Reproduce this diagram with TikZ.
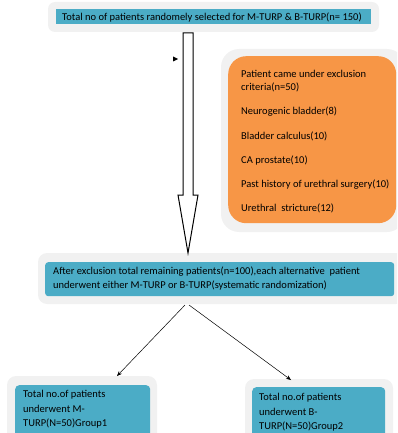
\documentclass[tikz,border=0pt]{standalone}
\usepackage{fontspec}
\setmainfont{Carlito}
\usetikzlibrary{arrows.meta}
\definecolor{teal1}{HTML}{4BACC6}
\definecolor{orange1}{HTML}{F79646}
\definecolor{halo}{HTML}{F1F1F1}
\begin{document}
\begin{tikzpicture}[x=1pt,y=-1pt,
  halobox/.style={fill=halo,draw=none,rounded corners=#1},
  tealbox/.style={fill=teal1,draw=none,rounded corners=#1},
  txt/.style={inner sep=0pt,anchor=base west,align=left,font=\fontsize{10.5}{#1}\selectfont},
  conn/.style={-{Stealth[length=5pt,width=4pt]},line width=0.5pt}]
\useasboundingbox (0,0) rectangle (397,433);
\clip (0,0) rectangle (397,433);
% top box
\fill[halobox=7pt] (48,2) rectangle (379,32);
\node[tealbox=0pt,inner sep=0pt,minimum width=315pt,minimum height=15pt,anchor=north west] (top) at (56,9) {};
\node[txt=11] (toptxt) at (62,20.7) {Total no of patients randomely selected for M-TURP \& B-TURP(n= 150)};
% exclusion box
\fill[halobox=18pt] (221,49) rectangle (405,232);
\node[fill=orange1,rounded corners=18pt,inner sep=0pt,minimum width=168pt,minimum height=167pt,anchor=north west] (excl) at (228,56) {};
\node[txt=13.7] (excltxt) at (241,211.7) {Patient came under exclusion\\criteria(n=50)\\[10.5pt]Neurogenic bladder(8)\\[10.5pt]Bladder calculus(10)\\[10.5pt]CA prostate(10)\\[10.5pt]Past history of urethral surgery(10)\\[10.5pt]Urethral\ \ stricture(12)};
% middle box
\fill[halobox=9pt] (38,253) rectangle (405,304);
\node[tealbox=3pt,inner sep=0pt,minimum width=349pt,minimum height=34pt,anchor=north west] (mid) at (45,262) {};
\node[txt=14.3] (midtxt) at (53,288.3) {After exclusion total remaining patients(n=100),each alternative\ \ patient\\underwent either M-TURP or B-TURP(systematic randomization)};
% bottom left
\fill[halobox=9pt] (7,376) rectangle (157,445);
\node[tealbox=4pt,inner sep=0pt,minimum width=135pt,minimum height=60pt,anchor=north west] (g1) at (15,385) {};
\node[txt=14.7] (g1txt) at (23,426.7) {Total no.of patients\\underwent M-\\TURP(N=50)Group1};
% bottom right
\fill[halobox=9pt] (245,379) rectangle (393,445);
\node[tealbox=4pt,inner sep=0pt,minimum width=133pt,minimum height=60pt,anchor=north west] (g2) at (252,387) {};
\node[txt=14.3] (g2txt) at (259,429.3) {Total no.of patients\\underwent B-\\TURP(N=50)Group2};
% big hollow arrow
\draw[line width=1pt,fill=white,line join=miter] (183,33) -- (193,33) -- (193,195) -- (198,195) -- (188,253) -- (178,195) -- (183,195) -- cycle;
% small stray arrowhead
\fill (173,56.5) -- (178,59) -- (173,61.5) -- cycle;
% connectors
\coordinate (s1) at (185,305);
\coordinate (s2) at (189,305);
\coordinate (e1) at (117,376);
\coordinate (e2) at (291,380);
\draw[conn] (s1) -- (e1);
\draw[conn] (s2) -- (e2);
\end{tikzpicture}
\end{document}
